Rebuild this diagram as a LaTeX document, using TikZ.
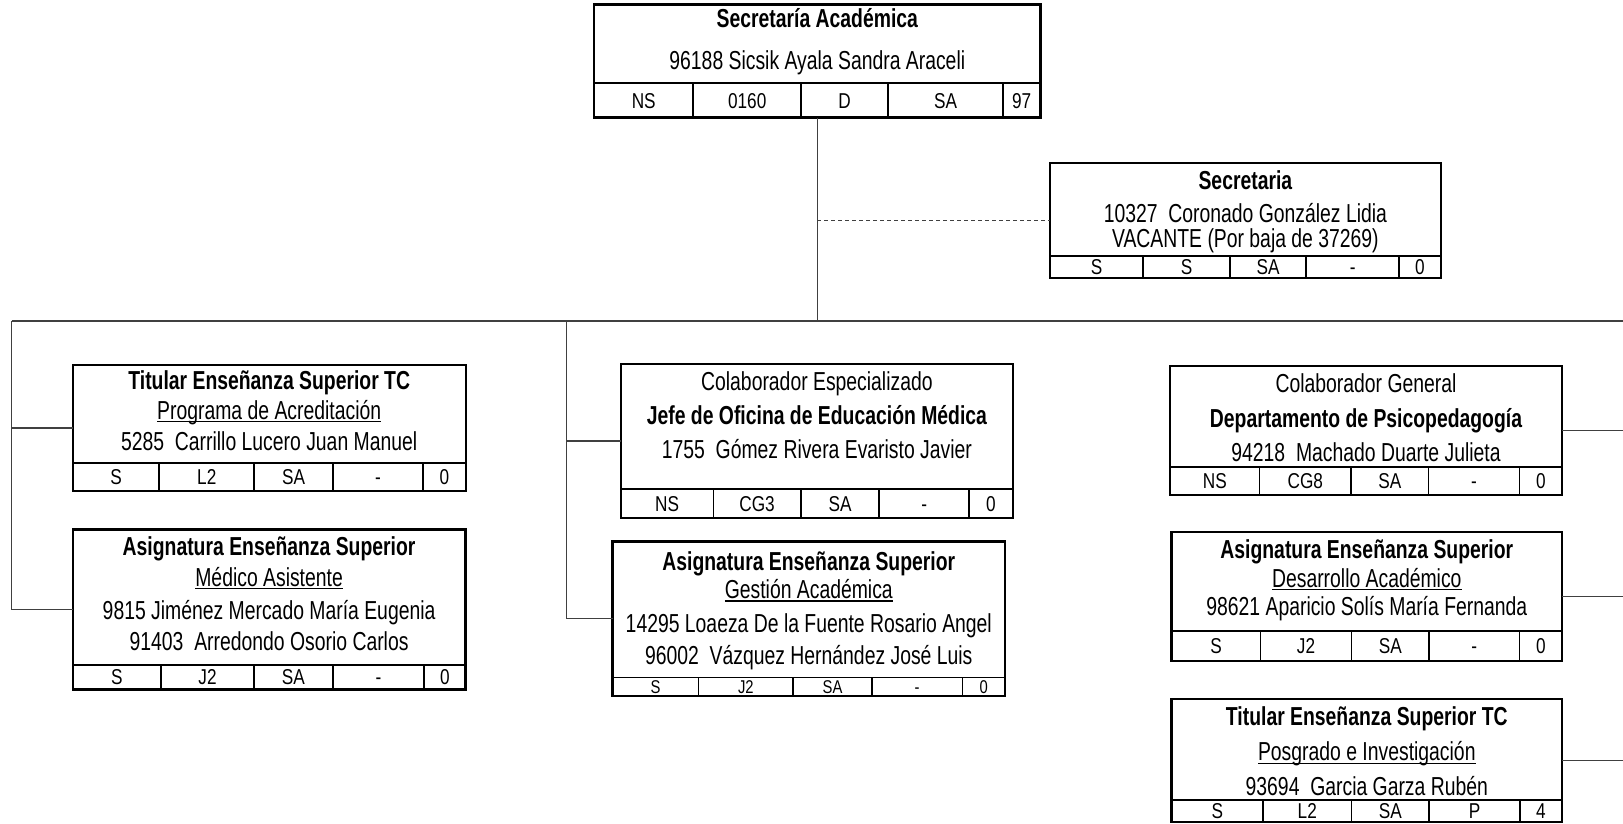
\documentclass[tikz,border=0pt]{standalone}
\usepackage{fontspec}
\setmainfont{Liberation Sans}[FakeStretch=0.745]
\newfontfamily\cellfont{Liberation Sans}[FakeStretch=0.8]
\usetikzlibrary{fit}
\newcommand\ulx[1]{\setbox0\hbox{#1}\rlap{\rule[-2.8pt]{\wd0}{1.2pt}}\box0}
\newcommand\obox[5]{\coordinate (#1nw) at (#2,#3); \coordinate (#1se) at (#4,#5); \node[box, fit=(#1nw)(#1se)] (#1) {};}
\begin{document}
\begin{tikzpicture}[x=1pt,y=-1pt,
 box/.style={draw=black, line width=2.4pt, inner sep=0pt, outer sep=0pt},
 div/.style={draw=black, line width=1.7pt},
 conn/.style={draw=black!75, line width=1.3pt},
 dashconn/.style={draw=black!75, line width=1.1pt, dash pattern=on 4pt off 3pt},
 txt/.style={anchor=base, inner sep=0pt, yshift=-9.2pt, font=\fontsize{26}{30}\selectfont},
 btxt/.style={anchor=base, inner sep=0pt, yshift=-9.2pt, font=\fontsize{26}{30}\selectfont\bfseries},
 ctxt/.style={anchor=base, inner sep=0pt, yshift=-7.6pt, font=\cellfont\fontsize{21.5}{25}\selectfont},
 sctxt/.style={anchor=base, inner sep=0pt, yshift=-6.6pt, font=\cellfont\fontsize{18.5}{22}\selectfont}]
\fill[white] (0,0) rectangle (1623,823);
\useasboundingbox (0,0) rectangle (1623,823);

% Top box
\obox{T}{594}{4.5}{1040.5}{117.5}
\draw[div] (594,83) -- (1040.5,83);
\foreach \x in {693.3,801,888.3,1002.7} \draw[div] (\x,83) -- (\x,117.5);
\node[btxt] (T1) at (817.3,18.5) {Secretaría Académica};
\node[txt] (T2) at (817.3,60) {96188 Sicsik Ayala Sandra Araceli};
\foreach \x/\t [count=\i] in {643.7/NS,747.2/0160,844.7/D,945.5/SA,1021.6/97} \node[ctxt] (Tc\i) at (\x,100.5) {\t};

% Secretaria
\obox{S}{1050}{162.7}{1440.7}{278}
\draw[div] (1050,256) -- (1440.7,256);
\foreach \x in {1143.3,1230,1306,1399.3} \draw[div] (\x,256) -- (\x,278);
\node[btxt] (S1) at (1245.4,180) {Secretaria};
\node[txt] (S2) at (1245.4,213.5) {10327\ \ Coronado González Lidia};
\node[txt] (S3) at (1245.4,238.5) {VACANTE (Por baja de 37269)};
\foreach \x/\t [count=\i] in {1096.7/S,1186.7/S,1268/SA,1352.7/-,1420/0} \node[ctxt] (Sc\i) at (\x,267.3) {\t};

% L1
\obox{L1}{72.7}{365}{465.7}{491}
\draw[div] (72.7,463.3) -- (465.7,463.3);
\foreach \x in {159.3,254.3,332.7,423.3} \draw[div] (\x,463.3) -- (\x,491);
\node[btxt] (L1a) at (269.2,380.7) {Titular Enseñanza Superior TC};
\node[txt] (L1b) at (269.2,410) {\ulx{Programa de Acreditación}};
\node[txt] (L1c) at (269.2,441.7) {5285\ \ Carrillo Lucero Juan Manuel};
\foreach \x/\t [count=\i] in {116/S,206.8/L2,293.5/SA,378/-,444.5/0} \node[ctxt] (L1c\i) at (\x,477) {\t};

% L2
\obox{L2}{72.7}{529.3}{465.5}{689.5}
\draw[div] (72.7,665) -- (465.5,665);
\foreach \x in {161,254,332.7,424} \draw[div] (\x,665) -- (\x,689.5);
\node[btxt] (L2a) at (269.1,546.7) {Asignatura Enseñanza Superior};
\node[txt] (L2b) at (269.1,577) {\ulx{Médico Asistente}};
\node[txt] (L2c) at (269.1,610) {9815 Jiménez Mercado María Eugenia};
\node[txt] (L2d) at (269.1,641.5) {91403\ \ Arredondo Osorio Carlos};
\foreach \x/\t [count=\i] in {116.9/S,207.5/J2,293.4/SA,378.4/-,444.8/0} \node[ctxt] (L2c\i) at (\x,677.3) {\t};

% M1
\obox{M1}{620.7}{364}{1013}{518}
\draw[div] (620.7,489) -- (1013,489);
\foreach \x in {713.5,800.7,879.3,969} \draw[div] (\x,489) -- (\x,518);
\node[txt] (M1a) at (816.9,381.7) {Colaborador Especializado};
\node[btxt] (M1b) at (816.9,415) {Jefe de Oficina de Educación Médica};
\node[txt] (M1c) at (816.9,449.3) {1755\ \ Gómez Rivera Evaristo Javier};
\foreach \x/\t [count=\i] in {667.1/NS,757.1/CG3,840/SA,924.2/-,991/0} \node[ctxt] (M1c\i) at (\x,503.5) {\t};

% M2
\obox{M2}{612.5}{541.5}{1005}{696}
\draw[div] (612.5,677.5) -- (1005,677.5);
\foreach \x in {698.5,793.3,871.7,962.5} \draw[div] (\x,677.5) -- (\x,696);
\node[btxt] (M2a) at (808.8,561) {Asignatura Enseñanza Superior};
\node[txt] (M2b) at (808.8,589.5) {\ulx{Gestión Académica}};
\node[txt] (M2c) at (808.8,623) {14295 Loaeza De la Fuente Rosario Angel};
\node[txt] (M2d) at (808.8,655.5) {96002\ \ Vázquez Hernández José Luis};
\foreach \x/\t [count=\i] in {655.5/S,745.9/J2,832.5/SA,917.1/-,983.8/0} \node[sctxt] (M2c\i) at (\x,687) {\t};

% R1
\obox{R1}{1170}{366}{1562}{495}
\draw[div] (1170,466.7) -- (1562,466.7);
\foreach \x in {1259.5,1351,1428.5,1519.5} \draw[div] (\x,466.7) -- (\x,495);
\node[txt] (R1a) at (1366,383.3) {Colaborador General};
\node[btxt] (R1b) at (1366,418.3) {Departamento de Psicopedagogía};
\node[txt] (R1c) at (1366,452.7) {94218\ \ Machado Duarte Julieta};
\foreach \x/\t [count=\i] in {1214.8/NS,1305.3/CG8,1389.8/SA,1474/-,1540.8/0} \node[ctxt] (R1c\i) at (\x,481) {\t};

% R2
\obox{R2}{1171.5}{532}{1562}{661}
\draw[div] (1171.5,631) -- (1562,631);
\foreach \x in {1260.5,1351.5,1429,1519.5} \draw[div] (\x,631) -- (\x,661);
\node[btxt] (R2a) at (1366.8,549.3) {Asignatura Enseñanza Superior};
\node[txt] (R2b) at (1366.8,578.3) {\ulx{Desarrollo Académico}};
\node[txt] (R2c) at (1366.8,606.7) {98621 Aparicio Solís María Fernanda};
\foreach \x/\t [count=\i] in {1216/S,1306/J2,1390.3/SA,1474.3/-,1540.8/0} \node[ctxt] (R2c\i) at (\x,646.3) {\t};

% R3
\obox{R3}{1171.5}{699}{1562}{822}
\draw[div] (1171.5,800) -- (1562,800);
\foreach \x in {1263,1351.5,1429,1520} \draw[div] (\x,800) -- (\x,822);
\node[btxt] (R3a) at (1366.8,716.7) {Titular Enseñanza Superior TC};
\node[txt] (R3b) at (1366.8,751.7) {\ulx{Posgrado e Investigación}};
\node[txt] (R3c) at (1366.8,786) {93694\ \ Garcia Garza Rubén};
\foreach \x/\t [count=\i] in {1217.3/S,1307.3/L2,1390.3/SA,1474.5/P,1541/4} \node[ctxt] (R3c\i) at (\x,811.3) {\t};

% connectors
\coordinate (busL) at (11.7,321);
\coordinate (busM) at (566.7,321);
\coordinate (busR) at (1623,321);
\draw[conn] (busL) -- (busR);
\draw[conn] (T.south) -- (T.south |- busL);
\draw[dashconn] (T.south |- S.west) -- (S.west);
\draw[conn] (busL) |- (L2.west);
\draw[conn] (L1.west) -- (L1.west -| busL);
\draw[conn] (busM) |- (M2.west);
\draw[conn] (M1.west) -- (M1.west -| busM);
\draw[conn] (R1.east) -- (R1.east -| busR);
\draw[conn] (R2.east) -- (R2.east -| busR);
\draw[conn] (R3.east) -- (R3.east -| busR);
\end{tikzpicture}
\end{document}
